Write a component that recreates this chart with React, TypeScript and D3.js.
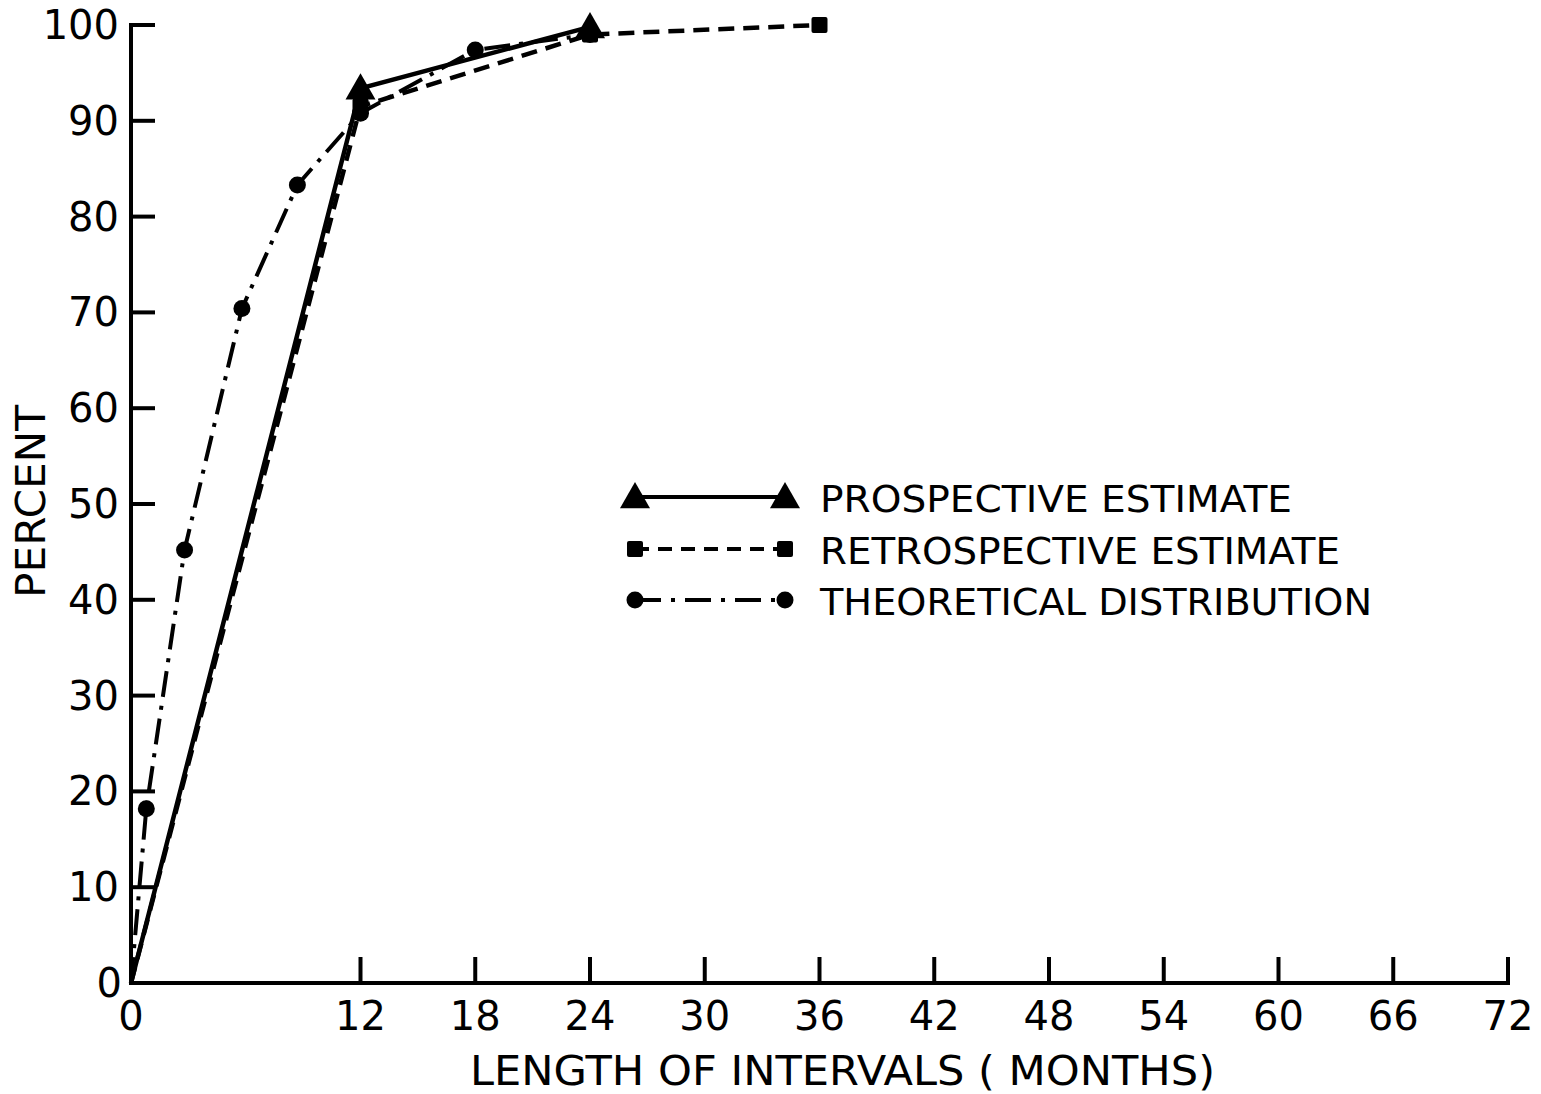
import React from 'react';
import * as d3 from 'd3';

// months on x, cumulative percent on y
const prospectiveMonths = [0, 12, 24];
const prospectiveValues = [0, 93.4, 99.8];

const retrospectiveMonths = [0, 12, 24, 36];
const retrospectiveValues = [0, 91.5, 99, 100];

const theoreticalMonths = [0, 0.8, 2.8, 5.8, 8.7, 12, 18, 24];
const theoreticalValues = [0, 18.2, 45.2, 70.4, 83.3, 90.8, 97.4, 99];

const xTicks = [0, 12, 18, 24, 30, 36, 42, 48, 54, 60, 66, 72];
const yTicks = [0, 10, 20, 30, 40, 50, 60, 70, 80, 90, 100];

const legendLabels = ['PROSPECTIVE ESTIMATE', 'RETROSPECTIVE ESTIMATE', 'THEORETICAL DISTRIBUTION'];

const W = 1541;
const H = 1094;
const FONT = '"DejaVu Sans", "Liberation Sans", sans-serif';

export default function App() {
  const x = d3.scaleLinear().domain([0, 72]).range([131, 1508]);
  const y = d3.scaleLinear().domain([0, 100]).range([983, 25]);

  const line = d3.line<[number, number]>()
    .x(d => x(d[0]))
    .y(d => y(d[1]));

  const pro = prospectiveMonths.map((m, i) => [m, prospectiveValues[i]] as [number, number]);
  const retro = retrospectiveMonths.map((m, i) => [m, retrospectiveValues[i]] as [number, number]);
  const theo = theoreticalMonths.map((m, i) => [m, theoreticalValues[i]] as [number, number]);

  const tri = (cx: number, cy: number, s = 15) =>
    `M${cx},${cy - s} L${cx + s},${cy + s * 0.75} L${cx - s},${cy + s * 0.75} Z`;

  const legendX1 = 635;
  const legendX2 = 785;
  const legendRows = [497, 549, 600];
  const textWidths = [472, 520, 552];

  return (
    <div style={{ position: 'absolute', left: 0, top: 0 }}>
      <svg width={W} height={H} style={{ background: '#fff', display: 'block' }}>
        {/* axes */}
        <g stroke="#000" strokeWidth={4} fill="none" strokeLinecap="square">
          <line x1={x(0)} x2={x(0)} y1={y(0)} y2={y(100)} />
          <line x1={x(0)} x2={x(72)} y1={y(0)} y2={y(0)} />
          {yTicks.filter(t => t > 0).map(t => (
            <line key={'yt' + t} x1={x(0)} x2={x(0) + 22} y1={y(t)} y2={y(t)} />
          ))}
          {xTicks.filter(t => t > 0).map(t => (
            <line key={'xt' + t} x1={x(t)} x2={x(t)} y1={y(0)} y2={y(0) - 24} />
          ))}
        </g>

        {/* tick labels */}
        <g fontFamily={FONT} fontSize={40} fill="#000">
          {yTicks.map(t => (
            <text key={'yl' + t} x={t === 0 ? 122 : 119} y={y(t) + 14} textAnchor="end">{t}</text>
          ))}
          {xTicks.map(t => (
            <text key={'xl' + t} x={x(t)} y={1030} textAnchor="middle">{t}</text>
          ))}
        </g>

        {/* axis titles */}
        <text x={470} y={1085} fontFamily={FONT} fontSize={40} textLength={745} lengthAdjust="spacingAndGlyphs">
          LENGTH OF INTERVALS ( MONTHS)
        </text>
        <text
          transform={`translate(45,598) rotate(-90)`}
          fontFamily={FONT}
          fontSize={40}
          textLength={193}
          lengthAdjust="spacingAndGlyphs"
        >
          PERCENT
        </text>

        {/* data lines */}
        <path d={line(theo) || ''} fill="none" stroke="#000" strokeWidth={4} strokeDasharray="26 9 4 9" />
        <path d={line(retro) || ''} fill="none" stroke="#000" strokeWidth={4.5} strokeDasharray="16 9" />
        <path d={line(pro) || ''} fill="none" stroke="#000" strokeWidth={4.5} />

        {/* markers */}
        {theo.slice(1).map((d, i) => (
          <circle key={'c' + i} cx={x(d[0])} cy={y(d[1])} r={8.5} fill="#000" />
        ))}
        {retro.slice(1).map((d, i) => (
          <rect key={'s' + i} x={x(d[0]) - 8} y={y(d[1]) - 8} width={16} height={16} rx={2} fill="#000" />
        ))}
        {pro.slice(1).map((d, i) => (
          <path key={'t' + i} d={tri(x(d[0]), y(d[1]))} fill="#000" />
        ))}

        {/* legend */}
        <g>
          <line x1={legendX1} x2={legendX2} y1={legendRows[0]} y2={legendRows[0]} stroke="#000" strokeWidth={4} />
          <path d={tri(legendX1, legendRows[0])} fill="#000" />
          <path d={tri(legendX2, legendRows[0])} fill="#000" />

          <line x1={legendX1} x2={legendX2} y1={legendRows[1]} y2={legendRows[1]} stroke="#000" strokeWidth={4} strokeDasharray="14 9" />
          <rect x={legendX1 - 8} y={legendRows[1] - 8} width={16} height={16} rx={2} fill="#000" />
          <rect x={legendX2 - 8} y={legendRows[1] - 8} width={16} height={16} rx={2} fill="#000" />

          <line x1={legendX1} x2={legendX2} y1={legendRows[2]} y2={legendRows[2]} stroke="#000" strokeWidth={4} strokeDasharray="26 10 4 10" />
          <circle cx={legendX1} cy={legendRows[2]} r={8.5} fill="#000" />
          <circle cx={legendX2} cy={legendRows[2]} r={8.5} fill="#000" />

          {legendLabels.map((lab, i) => (
            <text
              key={lab}
              x={820}
              y={legendRows[i] + 15}
              fontFamily={FONT}
              fontSize={38}
              textLength={textWidths[i]}
              lengthAdjust="spacingAndGlyphs"
            >
              {lab}
            </text>
          ))}
        </g>
      </svg>
    </div>
  );
}
